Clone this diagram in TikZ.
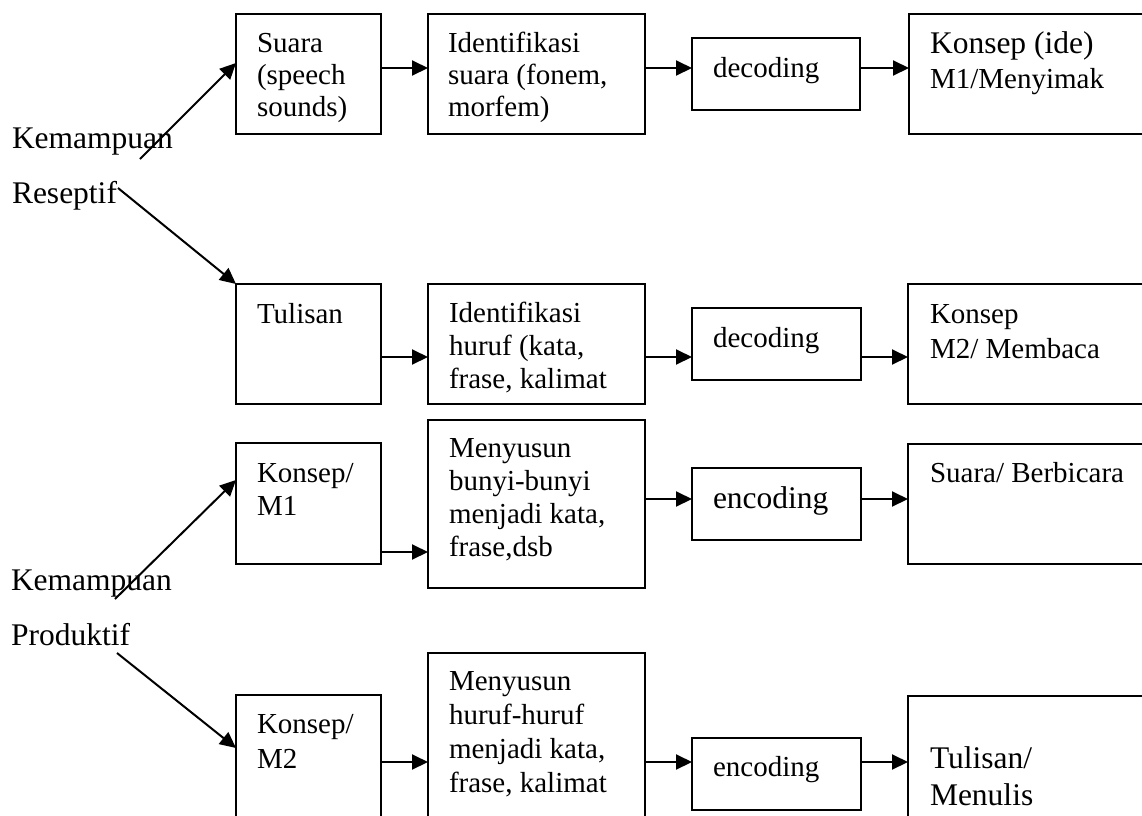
\documentclass[tikz,border=0pt]{standalone}
\usepackage{fontspec}
\setmainfont{Liberation Serif}
\usetikzlibrary{arrows.meta}
\newcommand\bx[5]{\node[box, minimum width={(#4-#2)*0.5pt}, minimum height={(#5-#3)*0.5pt}] (#1) at (#2,#3) {};}
\newcommand\lines[1]{\begin{tabular}[t]{@{}l@{}}#1\end{tabular}}
\newcommand\bigf{\fontsize{15.75}{\baselineskip}\selectfont}
\begin{document}
\begin{tikzpicture}[x=0.5pt,y=-0.5pt,
  box/.style={draw, line width=0.75pt, inner sep=0pt, outer sep=0pt, anchor=north west},
  arr/.style={-{Triangle[length=8pt,width=7.5pt]}, line width=1pt},
  txt/.style={anchor=base west, inner sep=0pt, outer sep=0pt, font=\fontsize{14.5}{#1}\selectfont},
  txt/.default=16.5pt]
\useasboundingbox (0,0) rectangle (1142,815);
\clip (0,0) rectangle (1142,815);
% boxes
\bx{s1}{236}{14}{381}{134}
\bx{i1}{428}{14}{645}{134}
\bx{d1}{692}{38}{860}{110}
\bx{k1}{909}{14}{1160}{134}
\bx{t2}{236}{284}{381}{404}
\bx{i2}{428}{284}{645}{404}
\bx{d2}{692}{308}{861}{380}
\bx{k2}{908}{284}{1160}{404}
\bx{m3}{236}{443}{381}{564}
\bx{y3}{428}{420}{645}{588}
\bx{e3}{692}{468}{861}{540}
\bx{b3}{908}{444}{1160}{564}
\bx{m4}{236}{695}{381}{830}
\bx{y4}{428}{653}{645}{830}
\bx{e4}{692}{738}{861}{810}
\bx{w4}{908}{696}{1160}{830}
% texts
\node[txt=16pt] (s1t) at (257,52) {\lines{Suara\\(speech\\sounds)}};
\node[txt=16pt] (i1t) at (448,52) {\lines{Identifikasi\\suara (fonem,\\morfem)}};
\node[txt] (d1t) at (713,77) {decoding};
\node[txt=17.5pt] (k1t) at (930,53) {\lines{{\bigf Konsep (ide)}\\M1/Menyimak}};
\node[txt] (t2t) at (257,323) {Tulisan};
\node[txt] (i2t) at (449,322) {\lines{Identifikasi\\huruf (kata,\\frase, kalimat}};
\node[txt] (d2t) at (713,347) {decoding};
\node[txt=17.5pt] (k2t) at (930,323) {\lines{Konsep\\M2/ Membaca}};
\node[txt] (m3t) at (257,482) {\lines{Konsep/\\M1}};
\node[txt] (y3t) at (449,457) {\lines{Menyusun\\bunyi-bunyi\\menjadi kata,\\frase,dsb}};
\node[txt] (e3t) at (713,508) {\bigf encoding};
\node[txt] (b3t) at (930,482) {Suara/ Berbicara};
\node[txt=17.5pt] (m4t) at (257,733) {\lines{Konsep/\\M2}};
\node[txt=17pt] (y4t) at (449,690) {\lines{Menyusun\\huruf-huruf\\menjadi kata,\\frase, kalimat}};
\node[txt] (e4t) at (713,776) {encoding};
\node[txt=18.5pt] (w4t) at (930,768) {\bigf\lines{Tulisan/\\Menulis}};
\node[txt=27.5pt] (kr) at (12,148) {\bigf\lines{Kemampuan\\Reseptif}};
\node[txt=27.5pt] (kp) at (11,590) {\bigf\lines{Kemampuan\\Produktif}};
% row levels
\coordinate (r1) at (0,68);
\coordinate (r2) at (0,357);
\coordinate (r3) at (0,499);
\coordinate (r3b) at (0,552);
\coordinate (r4) at (0,762);
% horizontal arrows
\draw[arr] (s1.east |- r1) -- (i1.west |- r1);
\draw[arr] (i1.east |- r1) -- (d1.west |- r1);
\draw[arr] (d1.east |- r1) -- (k1.west |- r1);
\draw[arr] (t2.east |- r2) -- (i2.west |- r2);
\draw[arr] (i2.east |- r2) -- (d2.west |- r2);
\draw[arr] (d2.east |- r2) -- (k2.west |- r2);
\draw[arr] (m3.east |- r3b) -- (y3.west |- r3b);
\draw[arr] (y3.east |- r3) -- (e3.west |- r3);
\draw[arr] (e3.east |- r3) -- (b3.west |- r3);
\draw[arr] (m4.east |- r4) -- (y4.west |- r4);
\draw[arr] (y4.east |- r4) -- (e4.west |- r4);
\draw[arr] (e4.east |- r4) -- (w4.west |- r4);
% diagonal arrows from labels
\coordinate (a1) at (140,159);
\coordinate (a2) at (118,188);
\coordinate (a3) at (115,599);
\coordinate (a4) at (117,653);
\draw[arr] (a1) -- ([yshift=-24.5pt]s1.north west);
\draw[arr] (a2) -- (t2.north west);
\draw[arr] (a3) -- ([yshift=-18.5pt]m3.north west);
\draw[arr] (a4) -- ([yshift=-26.5pt]m4.north west);
\end{tikzpicture}
\end{document}
